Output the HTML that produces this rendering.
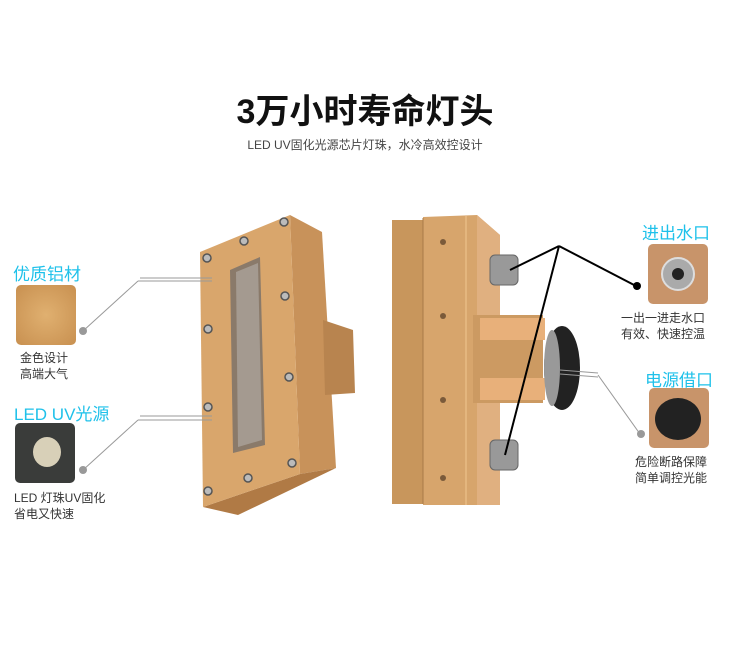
<!DOCTYPE html>
<html><head><meta charset="utf-8"><style>
body{margin:0;width:750px;height:658px;background:#fff;position:relative;overflow:hidden;font-family:"Liberation Sans","Noto Sans CJK SC",sans-serif}
.t{position:absolute;white-space:nowrap}
.c{color:#1fc1ea;font-size:17px}
.s{color:#333;font-size:12px;line-height:16px}
.th{position:absolute;width:60px;height:60px;border-radius:5px}
</style></head><body>
<div class="t" style="left:0;width:730px;text-align:center;top:84px;font-size:34px;font-weight:bold;color:#111">3万小时寿命灯头</div>
<div class="t" style="left:0;width:730px;text-align:center;top:136px;font-size:12px;color:#444">LED UV固化光源芯片灯珠，水冷高效控设计</div>

<div class="t c" style="left:13px;top:260px">优质铝材</div>
<div class="th" style="left:16px;top:285px;background:radial-gradient(#e0b070,#c89050)"></div>
<div class="t s" style="left:20px;top:350px">金色设计<br>高端大气</div>
<div class="t c" style="left:14px;top:400px">LED UV光源</div>
<div class="th" style="left:15px;top:423px;background:#3a3c3a"><div style="position:absolute;left:18px;top:14px;width:28px;height:30px;border-radius:50%;background:#d8d0b8"></div></div>
<div class="t s" style="left:14px;top:490px">LED 灯珠UV固化<br>省电又快速</div>

<div class="t c" style="left:642px;top:219px">进出水口</div>
<div class="th" style="left:648px;top:244px;background:#c8946a"><div style="position:absolute;left:13px;top:13px;width:34px;height:34px;border-radius:50%;background:#aaa;border:2px solid #ddd;box-sizing:border-box"><div style="margin:9px;width:12px;height:12px;border-radius:50%;background:#222"></div></div></div>
<div class="t s" style="left:621px;top:310px">一出一进走水口<br>有效、快速控温</div>
<div class="t c" style="left:645px;top:366px">电源借口</div>
<div class="th" style="left:649px;top:388px;background:#c8946a"><div style="position:absolute;left:6px;top:10px;width:46px;height:42px;border-radius:50%;background:#222"></div></div>
<div class="t s" style="left:635px;top:454px">危险断路保障<br>简单调控光能</div>

<svg width="750" height="658" style="position:absolute;left:0;top:0">
<!-- left device -->
<polygon points="290,215 322,232 336,468 300,474" fill="#c8925a"/>
<polygon points="203,507 300,474 336,468 238,515" fill="#b07a45"/>
<polygon points="200,252 290,215 300,474 203,507" fill="#d9a66c"/>
<polygon points="323,320 353,330 355,393 325,395" fill="#b8844f"/>
<polygon points="230,270 260,257 265,445 233,453" fill="#8a7a6a"/>
<polygon points="236,272 258,263 262,440 238,447" fill="#a49a90"/>
<g fill="#bbb" stroke="#555" stroke-width="1.5">
<circle cx="207" cy="258" r="4"/><circle cx="244" cy="241" r="4"/><circle cx="284" cy="222" r="4"/>
<circle cx="285" cy="296" r="4"/><circle cx="208" cy="329" r="4"/><circle cx="289" cy="377" r="4"/>
<circle cx="208" cy="407" r="4"/><circle cx="292" cy="463" r="4"/><circle cx="248" cy="478" r="4"/><circle cx="208" cy="491" r="4"/></g>
<!-- right device -->
<rect x="392" y="220" width="31" height="284" fill="#c8965c"/>
<polygon points="423,217 477,215 500,235 500,505 477,505 423,505" fill="#d7a56c"/>
<polygon points="477,215 500,235 500,505 477,505" fill="#e0b080"/>
<line x1="423" y1="218" x2="423" y2="504" stroke="#a87a48"/>
<line x1="466" y1="216" x2="466" y2="505" stroke="#f0c890"/>
<rect x="473" y="315" width="70" height="88" fill="#cc9a62"/>
<rect x="480" y="318" width="65" height="22" fill="#e8b07a"/>
<rect x="480" y="378" width="65" height="22" fill="#e8b07a"/>
<ellipse cx="562" cy="368" rx="18" ry="42" fill="#222"/>
<ellipse cx="552" cy="368" rx="8" ry="38" fill="#999"/>
<g fill="#999" stroke="#666"><rect x="490" y="255" width="28" height="30" rx="5"/><rect x="490" y="440" width="28" height="30" rx="5"/></g>
<g fill="#7a5a3a"><circle cx="443" cy="242" r="3"/><circle cx="443" cy="316" r="3"/><circle cx="443" cy="400" r="3"/><circle cx="443" cy="478" r="3"/></g>
<!-- connectors -->
<g stroke="#999" stroke-width="1" fill="none">
<line x1="140" y1="278" x2="212" y2="278"/><line x1="138" y1="281" x2="212" y2="281"/>
<line x1="138" y1="281" x2="83" y2="331"/>
<line x1="140" y1="416" x2="212" y2="416"/><line x1="138" y1="420" x2="212" y2="420"/>
<line x1="138" y1="420" x2="83" y2="470"/>
<line x1="560" y1="370" x2="598" y2="373"/><line x1="560" y1="374" x2="598" y2="377"/>
<line x1="598" y1="375" x2="640" y2="434"/>
</g>
<g fill="#999"><circle cx="83" cy="331" r="4"/><circle cx="83" cy="470" r="4"/><circle cx="641" cy="434" r="4"/></g>
<g stroke="#000" stroke-width="2" fill="none">
<line x1="559" y1="246" x2="510" y2="270"/><line x1="559" y1="246" x2="505" y2="455"/><line x1="559" y1="246" x2="636" y2="286"/>
</g>
<circle cx="637" cy="286" r="4" fill="#000"/>
</svg>
</body></html>
